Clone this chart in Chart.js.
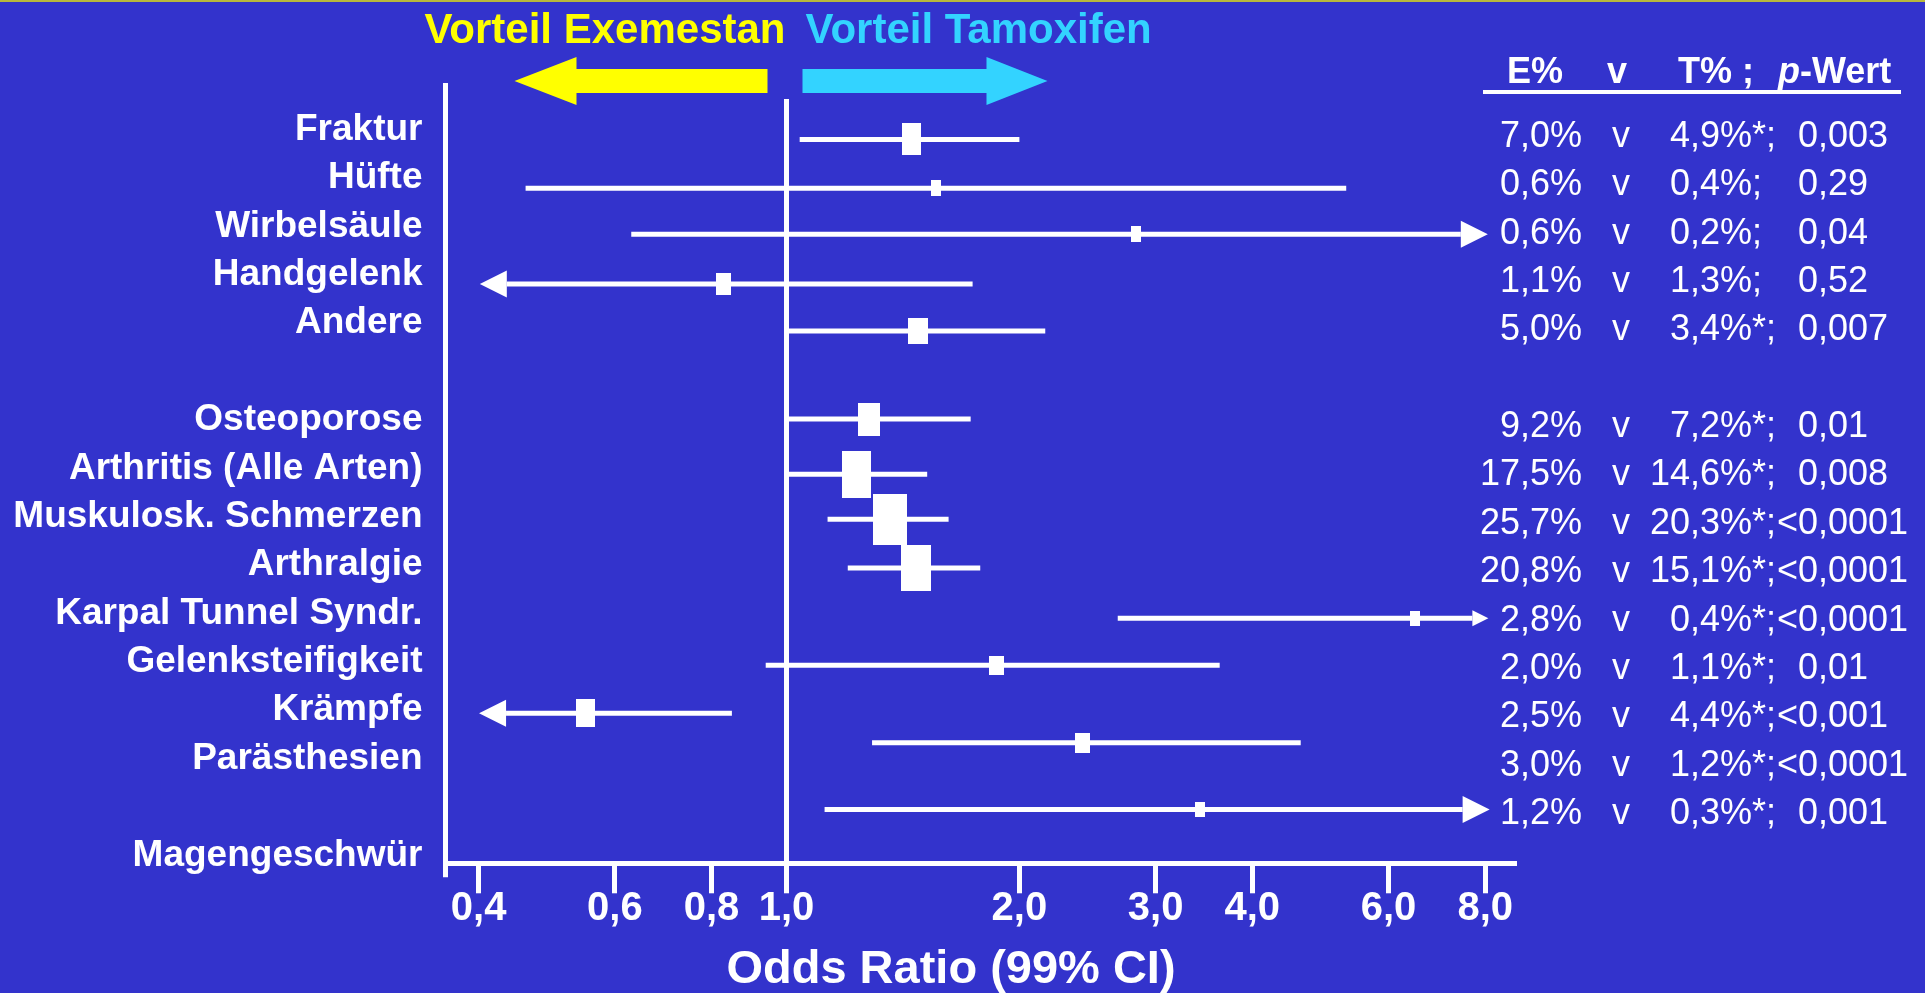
<!DOCTYPE html>
<html lang="de">
<head>
<meta charset="utf-8">
<title>Muskuloskelettale Ereignisse: Exemestan vs. Tamoxifen</title>
<script src="https://cdn.jsdelivr.net/npm/chart.js@4.4.1/dist/chart.umd.min.js"></script>
<style>
  html, body { margin: 0; padding: 0; background: #3333cc; overflow: hidden; }
  canvas { display: block; }
</style>
</head>
<body>
<canvas id="forestChart" width="1925" height="993"></canvas>
<script>
// Label slots on the y axis (empty strings are spacer rows)
const rowLabels = ['Fraktur', 'Hüfte', 'Wirbelsäule', 'Handgelenk', 'Andere', '',
  'Osteoporose', 'Arthritis (Alle Arten)', 'Muskulosk. Schmerzen', 'Arthralgie',
  'Karpal Tunnel Syndr.', 'Gelenksteifigkeit', 'Krämpfe', 'Parästhesien', '', 'Magengeschwür'];

// One entry per plotted row: slot position, odds ratio and 99% CI as drawn
const rowPos = [0.20, 1.21, 2.16, 3.19, 4.16, 5.98, 7.12, 8.05, 9.06, 10.10, 11.07, 12.06, 12.67, 14.05];
const oddsRatio = [1.45, 1.56, 2.83, 0.83, 1.48, 1.28, 1.23, 1.36, 1.47, 6.49, 1.87, 0.55, 2.41, 3.42];
const ciLow = [1.04, 0.46, 0.63, 0.435, 1.00, 1.00, 1.00, 1.13, 1.20, 2.68, 0.94, 0.434, 1.29, 1.12];
const ciHigh = [2.00, 5.29, 7.44, 1.74, 2.16, 1.73, 1.52, 1.62, 1.78, 7.70, 3.63, 0.85, 4.62, 7.48];
// CI continues off the scale: 1 = right, -1 = left
const arrowDir = [0, 0, 1, -1, 0, 0, 0, 0, 0, 1, 0, -1, 0, 1];

// Table on the right
const pctE = ['7,0%', '0,6%', '0,6%', '1,1%', '5,0%', '9,2%', '17,5%', '25,7%', '20,8%', '2,8%', '2,0%', '2,5%', '3,0%', '1,2%'];
const pctT = ['4,9%', '0,4%', '0,2%', '1,3%', '3,4%', '7,2%', '14,6%', '20,3%', '15,1%', '0,4%', '1,1%', '4,4%', '1,2%', '0,3%'];
const signif = [true, false, false, false, true, true, true, true, true, true, true, true, true, true];
const pValue = ['0,003', '0,29', '0,04', '0,52', '0,007', '0,01', '0,008', '<0,0001', '<0,0001', '<0,0001', '0,01', '<0,001', '<0,0001', '0,001'];

// x axis
const tickValues = [0.4, 0.6, 0.8, 1, 2, 3, 4, 6, 8];
const tickLabels = ['0,4', '0,6', '0,8', '1,0', '2,0', '3,0', '4,0', '6,0', '8,0'];
const sideLabels = ['Vorteil Exemestan', 'Vorteil Tamoxifen'];
const axisTitle = 'Odds Ratio (99% CI)';

// styling only
const markerBox = [[19, 32], [10, 16], [10, 16], [15, 22], [20, 26], [22, 33], [29, 47],
  [34, 51], [30, 46], [10, 15], [15, 19], [19, 28], [15, 20], [10, 15]];
const arrowHead = [0, 0, 27, 27, 0, 0, 0, 0, 0, 16, 0, 27, 0, 27];
const FONT = "'Liberation Sans', Arial, Helvetica, sans-serif";
const YELLOW = '#ffff00';
const CYAN = '#33d3ff';

Chart.defaults.font.family = FONT;
Chart.defaults.color = '#ffffff';

function whiteBox(w, h) {
  const c = document.createElement('canvas');
  c.width = w;
  c.height = h;
  const g = c.getContext('2d');
  g.fillStyle = '#ffffff';
  g.fillRect(0, 0, w, h);
  return c;
}

const slidePlugin = {
  id: 'slideDecor',
  beforeDatasetsDraw(chart) {
    const { ctx, chartArea, scales: { x } } = chart;
    const one = x.getPixelForValue(1);
    ctx.save();
    ctx.strokeStyle = '#ffffff';
    ctx.lineWidth = 5;
    ctx.beginPath();
    ctx.moveTo(one, chartArea.top + 14);
    ctx.lineTo(one, chartArea.bottom);
    // left axis runs a little below the x axis
    ctx.moveTo(chartArea.left, chartArea.bottom);
    ctx.lineTo(chartArea.left, chartArea.bottom + 14);
    ctx.stroke();
    ctx.restore();
  },
  afterDatasetsDraw(chart) {
    const { ctx, scales: { x, y } } = chart;
    ctx.save();
    ctx.fillStyle = '#ffffff';
    arrowDir.forEach((dir, i) => {
      if (!dir) return;
      const baseX = x.getPixelForValue(dir > 0 ? ciHigh[i] : ciLow[i]);
      const cy = y.getPixelForValue(rowPos[i]);
      const len = arrowHead[i];
      ctx.beginPath();
      ctx.moveTo(baseX + dir * len, cy);
      ctx.lineTo(baseX, cy - len / 2);
      ctx.lineTo(baseX, cy + len / 2);
      ctx.closePath();
      ctx.fill();
    });
    ctx.restore();
  },
  afterDraw(chart) {
    const { ctx, scales: { x, y } } = chart;
    const one = x.getPixelForValue(1);
    ctx.save();

    // thin rule at the top of the slide
    ctx.fillStyle = '#b8b83c';
    ctx.fillRect(0, 0, chart.width, 2);

    // heading
    ctx.font = `bold 42px ${FONT}`;
    ctx.textBaseline = 'alphabetic';
    ctx.textAlign = 'right';
    ctx.fillStyle = YELLOW;
    ctx.fillText(sideLabels[0], one - 1, 43);
    ctx.textAlign = 'left';
    ctx.fillStyle = CYAN;
    ctx.fillText(sideLabels[1], one + 19, 43);

    // big direction arrows
    ctx.fillStyle = YELLOW;
    ctx.beginPath();
    ctx.moveTo(one - 272, 81);
    ctx.lineTo(one - 210, 57);
    ctx.lineTo(one - 210, 69);
    ctx.lineTo(one - 19, 69);
    ctx.lineTo(one - 19, 93);
    ctx.lineTo(one - 210, 93);
    ctx.lineTo(one - 210, 105);
    ctx.closePath();
    ctx.fill();
    ctx.fillStyle = CYAN;
    ctx.beginPath();
    ctx.moveTo(one + 16, 69);
    ctx.lineTo(one + 200, 69);
    ctx.lineTo(one + 200, 57);
    ctx.lineTo(one + 261, 81);
    ctx.lineTo(one + 200, 105);
    ctx.lineTo(one + 200, 93);
    ctx.lineTo(one + 16, 93);
    ctx.closePath();
    ctx.fill();

    // table header
    ctx.fillStyle = '#ffffff';
    ctx.font = `bold 36px ${FONT}`;
    ctx.textAlign = 'left';
    ctx.fillText('E%', 1507, 83);
    ctx.fillText('v', 1607, 83);
    ctx.fillText('T% ;', 1678, 83);
    ctx.font = `italic bold 36px ${FONT}`;
    ctx.fillText('p', 1778, 83);
    const pw = ctx.measureText('p').width;
    ctx.font = `bold 36px ${FONT}`;
    ctx.fillText('-Wert', 1778 + pw, 83);
    ctx.fillRect(1483, 90, 418, 4);

    // table rows
    ctx.font = `36px ${FONT}`;
    rowPos.forEach((pos, i) => {
      const base = y.getPixelForValue(Math.round(pos)) + 17;
      ctx.textAlign = 'right';
      ctx.fillText(pctE[i], 1582, base);
      ctx.fillText(pctT[i], 1752, base);
      ctx.textAlign = 'center';
      ctx.fillText('v', 1621, base);
      ctx.textAlign = 'left';
      ctx.fillText(signif[i] ? '*;' : ';', 1752, base);
      const p = pValue[i];
      if (p.startsWith('<')) {
        ctx.textAlign = 'right';
        ctx.fillText('<', 1798, base);
        ctx.textAlign = 'left';
        ctx.fillText(p.slice(1), 1798, base);
      } else {
        ctx.fillText(p, 1798, base);
      }
    });

    // axis title
    ctx.font = `bold 47px ${FONT}`;
    ctx.textAlign = 'center';
    ctx.fillText(axisTitle, 951, 983);
    ctx.restore();
  }
};

const ciDatasets = rowPos.map((pos, i) => ({
  data: [{ x: ciLow[i], y: pos }, { x: ciHigh[i], y: pos }],
  showLine: true,
  borderColor: '#ffffff',
  borderWidth: 5,
  borderCapStyle: 'butt',
  pointRadius: 0,
  order: 1
}));

const markerDataset = {
  data: oddsRatio.map((v, i) => ({ x: v, y: rowPos[i] })),
  pointStyle: markerBox.map(([w, h]) => whiteBox(w, h)),
  pointRadius: 6,
  borderWidth: 0,
  order: 0
};

new Chart(document.getElementById('forestChart'), {
  type: 'scatter',
  data: { datasets: [...ciDatasets, markerDataset] },
  plugins: [slidePlugin],
  options: {
    responsive: false,
    animation: false,
    events: [],
    layout: { padding: { top: 85, right: 409, bottom: 0, left: 0 } },
    plugins: { legend: { display: false }, tooltip: { enabled: false } },
    scales: {
      x: {
        type: 'logarithmic',
        bounds: 'data',
        min: 0.36245,
        max: 8.768,
        afterBuildTicks: (scale) => {
          scale.ticks = tickValues.map(v => ({ value: v }));
        },
        afterFit: (scale) => { scale.height = 129.7; },
        border: { display: true, color: '#ffffff', width: 5 },
        grid: {
          drawOnChartArea: false,
          drawTicks: true,
          tickLength: 30,
          tickWidth: 5,
          tickColor: '#ffffff',
          color: '#ffffff'
        },
        ticks: {
          autoSkip: false,
          maxRotation: 0,
          padding: -8,
          color: '#ffffff',
          font: { size: 40, weight: 'bold' },
          callback: (value, index) => tickLabels[index]
        }
      },
      y: {
        type: 'linear',
        reverse: true,
        min: -0.926,
        max: 15.164,
        afterBuildTicks: (scale) => {
          scale.ticks = rowLabels.map((_, i) => ({ value: i }));
        },
        afterFit: (scale) => { scale.width = 445.5; },
        border: { display: true, color: '#ffffff', width: 5 },
        grid: { display: false, drawTicks: false },
        ticks: {
          autoSkip: false,
          padding: 23,
          color: '#ffffff',
          font: { size: 37, weight: 'bold' },
          callback: (value, index) => rowLabels[index]
        }
      }
    }
  }
});
</script>
</body>
</html>
